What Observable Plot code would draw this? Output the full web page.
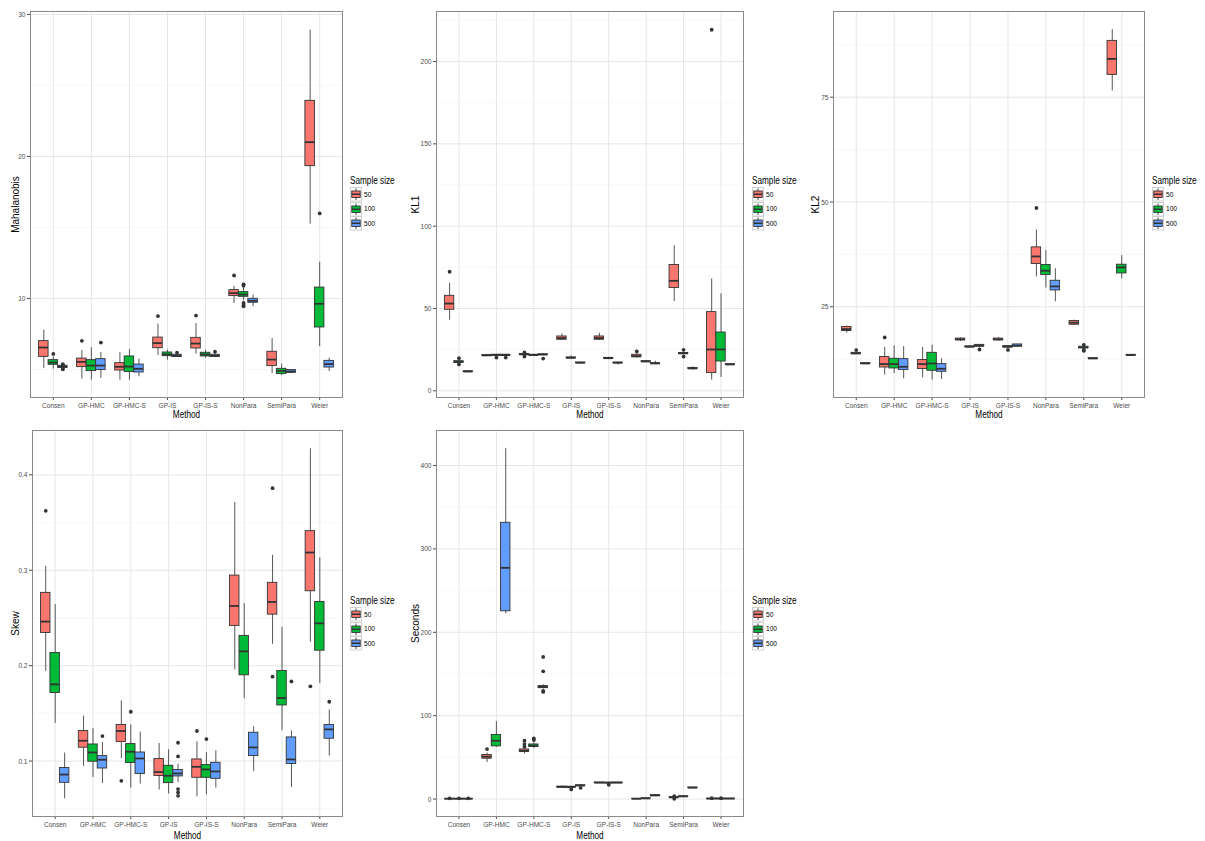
<!DOCTYPE html>
<html><head><meta charset="utf-8">
<script src="https://cdn.jsdelivr.net/npm/d3@7"></script>
<script src="https://cdn.jsdelivr.net/npm/@observablehq/plot@0.6"></script>
<style>
body{margin:0;background:#fff;width:1205px;height:841px;position:relative;overflow:hidden;font-family:"Liberation Sans",Arial,sans-serif;}
.panel{position:absolute;}
.legend{position:absolute;font-size:8px;color:#000;}
.legend .ttl{font-size:10px;line-height:13px;height:13px;white-space:nowrap;display:inline-block;transform:scaleX(0.82);transform-origin:0 50%;}
.legend .row{display:flex;align-items:center;height:14.5px;}
.legend .row span{margin-left:2px;display:inline-block;transform:scaleX(0.82);transform-origin:0 50%;}
g[aria-label="x-axis label"] text, g[aria-label="y-axis label"] text{font-size:10px;fill:#000;}
</style></head><body>
<script>
const methods = ["Consen","GP-HMC","GP-HMC-S","GP-IS","GP-IS-S","NonPara","SemiPara","Weier"];
const sizes = ["50","100","500"];
const colors = ["#F8766D","#00BA38","#619CFF"];
const dodge = [-0.25, 0, 0.25];

// each row: [lower whisker, Q1, median, Q3, upper whisker, [outliers]] ; order: method x size
const mahalanobis = [
  [5.08,5.89,6.55,7.0,7.77,[]],[5.03,5.33,5.49,5.66,5.89,[6.1]],[5.1,5.12,5.19,5.26,5.3,[5.38,5.33,5.05,5.02]],
  [4.32,5.17,5.54,5.77,6.34,[7.02]],[4.25,4.89,5.28,5.66,6.53,[]],[4.37,4.96,5.28,5.73,6.2,[6.9]],
  [4.25,4.93,5.19,5.45,6.2,[]],[4.25,4.82,5.21,5.92,6.41,[]],[4.49,4.79,5.05,5.35,5.73,[]],
  [5.99,6.5,6.86,7.25,8.2,[8.76]],[5.66,5.94,6.06,6.2,6.37,[]],[5.87,5.89,5.96,6.04,6.1,[6.18]],
  [6.08,6.48,6.83,7.23,8.24,[8.8]],[5.8,5.92,6.06,6.18,6.37,[]],[5.87,5.89,5.96,6.04,6.1,[6.25]],
  [9.65,10.17,10.38,10.59,10.85,[11.62]],[9.85,10.12,10.28,10.45,10.7,[10.9,11.0,9.7,9.55,9.45]],[9.42,9.7,9.84,9.98,10.24,[]],
  [4.72,5.24,5.7,6.25,7.18,[]],[4.58,4.68,4.91,5.05,5.38,[]],[4.72,4.77,4.86,4.96,5.0,[]],
  [15.24,19.32,21.01,23.92,28.9,[]],[6.62,7.96,9.63,10.77,12.56,[15.99]],[4.86,5.14,5.38,5.61,5.8,[]]
];
const kl1 = [
  [42.9,49.2,53.0,57.7,65.4,[72.3]],[16.5,17.0,17.5,18.0,18.8,[19.8,16.0]],[11.3,11.5,11.7,11.9,12.1,[]],
  [20.9,21.2,21.5,21.7,22.0,[]],[21.2,21.5,21.7,21.9,22.1,[20.2]],[21.2,21.5,21.7,21.9,22.1,[20.2]],
  [21.3,21.8,22.1,22.4,22.8,[23.3,20.8]],[21.2,21.5,21.7,21.9,22.1,[]],[21.3,21.7,22.0,22.2,22.5,[19.6]],
  [30.6,31.0,32.0,33.0,34.6,[]],[19.4,19.8,20.0,20.3,21.2,[]],[16.6,16.8,17.0,17.2,17.4,[]],
  [30.6,31.0,32.0,33.0,35.0,[]],[19.4,19.6,19.8,20.0,20.3,[]],[15.6,16.8,17.0,17.2,17.4,[]],
  [20.0,20.3,21.1,21.9,22.5,[23.9]],[17.4,17.6,17.8,18.0,18.2,[]],[16.4,16.5,16.6,16.8,17.9,[]],
  [54.2,62.4,66.8,76.4,88.1,[]],[21.8,22.4,22.7,23.0,23.5,[24.9,20.8]],[12.5,13.3,13.6,13.9,14.6,[]],
  [6.5,10.75,25.1,47.8,67.9,[219.3]],[8.1,17.8,25.1,35.4,58.9,[]],[15.7,15.85,16.0,16.15,16.3,[]]
];
const kl2 = [
  [18.7,19.2,19.67,20.15,20.4,[]],[13.6,13.7,13.85,14.0,14.2,[14.66]],[11.3,11.38,11.46,11.54,11.6,[]],
  [8.69,10.5,11.31,12.99,15.28,[17.67]],[9.07,10.27,11.31,12.58,15.69,[]],[7.81,9.88,10.67,12.5,15.5,[]],
  [8.05,10.12,11.31,12.27,15.28,[]],[7.5,9.72,11.46,14.0,15.85,[]],[7.64,9.48,10.2,11.31,12.58,[]],
  [16.7,17.0,17.2,17.4,17.6,[]],[15.2,15.35,15.45,15.55,15.7,[]],[15.2,15.5,15.7,15.9,16.0,[14.8]],
  [16.8,17.0,17.2,17.4,17.6,[]],[15.1,15.3,15.45,15.6,15.7,[14.7]],[15.4,15.5,15.7,16.0,16.1,[]],
  [32.1,35.2,37.0,39.17,43.3,[48.57]],[29.47,32.57,33.6,34.96,38.4,[]],[26.2,28.9,29.85,31.2,34.07,[]],
  [20.5,20.7,21.2,21.6,21.8,[]],[14.9,15.1,15.28,15.45,15.6,[15.9,14.7,14.5]],[12.5,12.6,12.66,12.72,12.8,[]],
  [76.5,80.33,84.15,88.45,91.15,[]],[31.7,32.95,34.4,35.03,37.2,[]],[13.3,13.4,13.46,13.52,13.6,[]]
];
const skew = [
  [0.194,0.2343,0.2462,0.2763,0.3042,[0.3623]],[0.1395,0.1714,0.1804,0.2133,0.264,[]],[0.0604,0.0772,0.0859,0.0927,0.1084,[]],
  [0.0944,0.114,0.1213,0.1315,0.1472,[]],[0.0828,0.0993,0.109,0.1174,0.1342,[]],[0.0765,0.0922,0.1014,0.1052,0.1195,[0.1262]],
  [0.1024,0.12,0.1315,0.1378,0.163,[0.0793]],[0.0717,0.0979,0.1098,0.1178,0.1378,[0.1517]],[0.0759,0.0864,0.1027,0.109,0.1304,[]],
  [0.0696,0.0843,0.0885,0.1021,0.1185,[]],[0.0654,0.0769,0.0846,0.0951,0.1119,[]],[0.0775,0.0839,0.087,0.0906,0.0969,[0.1192,0.1049,0.0706,0.0671,0.0636]],
  [0.0625,0.0825,0.094,0.1017,0.1203,[0.1315]],[0.0646,0.0825,0.0912,0.0958,0.109,[0.1231]],[0.0717,0.0814,0.0891,0.0982,0.1108,[]],
  [0.1955,0.2417,0.2626,0.2944,0.371,[]],[0.1654,0.1899,0.215,0.2312,0.2651,[]],[0.0888,0.1052,0.1143,0.1297,0.136,[]],
  [0.2224,0.2535,0.2668,0.2868,0.3157,[0.386,0.1885]],[0.1318,0.1583,0.1661,0.1944,0.2402,[]],[0.0723,0.0969,0.1017,0.1248,0.1315,[0.1835]],
  [0.2245,0.278,0.3186,0.341,0.4274,[0.1783]],[0.1811,0.2157,0.2444,0.2668,0.313,[]],[0.1052,0.1234,0.1332,0.1378,0.1535,[0.1622]]
];
const seconds = [
  [0.1,0.2,0.3,0.4,0.6,[0.9]],[0.1,0.2,0.3,0.4,0.6,[0.9]],[0.1,0.2,0.3,0.4,0.6,[0.9]],
  [43.9,48.4,50.8,52.8,55.2,[60.0]],[62.0,63.2,70.0,76.8,92.8,[]],[222,225.2,277.3,331.3,420.2,[]],
  [54.0,56.5,58.0,59.5,61.5,[70,66,62.8]],[60.5,62.6,64,65.5,67.5,[72.7,70.8]],[132,133,134.5,135.5,137,[170.5,153.2,129.6,128.5]],
  [13.5,14.0,14.5,15.0,15.4,[]],[13.6,14.0,14.4,14.8,15.2,[11.6]],[15.0,15.7,16.2,16.6,17.0,[13.5]],
  [19.0,19.3,19.6,19.9,20.2,[]],[18.5,19.2,19.5,19.8,20.1,[17.2]],[19.0,19.3,19.6,19.9,20.2,[]],
  [0.1,0.2,0.3,0.4,0.6,[]],[0.5,0.7,0.8,0.9,1.1,[]],[3.0,3.8,4.3,4.8,5.5,[]],
  [1.0,1.6,2.0,2.4,3.0,[0.4,3.6]],[2.7,3.0,3.2,3.4,3.7,[]],[12.8,13.3,13.6,13.9,14.3,[]],
  [0.2,0.4,0.5,0.6,0.8,[1.1]],[0.2,0.4,0.5,0.6,0.8,[1.1]],[0.2,0.4,0.5,0.6,0.8,[]]
];

const panels = [
  {stats: mahalanobis, label: "Mahalanobis", domain: [3.03, 30.21], major: [10,20,30], minor: [5,15,25],
   left: 0, top: 0, width: 345, height: 420, ml: 30, mt: 11, mb: 23, legend: [350, 174]},
  {stats: kl1, label: "KL1", domain: [-4.07, 230.4], major: [0,50,100,150,200], minor: [25,75,125,175,225],
   left: 400, top: 0, width: 346, height: 420, ml: 36, mt: 11, mb: 23, legend: [752, 174]},
  {stats: kl2, label: "KL2", domain: [3.34, 95.46], major: [25,50,75], minor: [12.5,37.5,62.5,87.5],
   left: 800, top: 0, width: 347, height: 420, ml: 33, mt: 11, mb: 23, legend: [1152, 174]},
  {stats: skew, label: "Skew", domain: [0.0419, 0.4465], major: [0.1,0.2,0.3,0.4], minor: [0.05,0.15,0.25,0.35],
   left: 0, top: 420, width: 345, height: 421, ml: 32, mt: 10, mb: 25, legend: [350, 594]},
  {stats: seconds, label: "Seconds", domain: [-20.9, 442], major: [0,100,200,300,400], minor: [50,150,250,350],
   left: 400, top: 420, width: 346, height: 421, ml: 36, mt: 10, mb: 25, legend: [752, 594]}
];

const xTicks = methods.map((m, i) => i + 1);

function narrowText(svg) {
  svg.querySelectorAll("text").forEach(t => {
    if (t.closest('g[aria-label="y-axis label"]')) return;
    const tr = t.getAttribute("transform");
    const x = t.getAttribute("x");
    let pre = "";
    if (x && !/em/.test(x)) { pre = `translate(${x},0) `; t.removeAttribute("x"); }
    t.setAttribute("transform", (tr ? tr + " " : "") + pre + "scale(0.82,1)");
  });
}

function drawPanel(p) {
  const rows = p.stats.map((s, k) => ({
    method: methods[Math.floor(k / 3)], size: sizes[k % 3],
    xc: Math.floor(k / 3) + 1 + dodge[k % 3],
    lo: s[0], q1: s[1], med: s[2], q3: s[3], hi: s[4], out: s[5]
  }));
  const outs = rows.flatMap(r => r.out.map(v => ({xc: r.xc, v})));
  const fig = Plot.plot({
    width: p.width, height: p.height,
    marginLeft: p.ml, marginRight: 3, marginTop: p.mt, marginBottom: p.mb,
    style: {fontSize: "8px", color: "#4d4d4d", background: "transparent",
            fontFamily: '"Liberation Sans",Arial,sans-serif'},
    x: {domain: [0.4, 8.6], ticks: xTicks, tickFormat: i => methods[i - 1], label: "Method",
        labelAnchor: "center", labelArrow: false, tickSize: 3, tickPadding: 2},
    y: {domain: p.domain, ticks: p.major, tickFormat: d => String(d), label: p.label,
        labelAnchor: "center", labelArrow: false, labelOffset: p.ml - 11, tickSize: 3, tickPadding: 2},
    color: {domain: sizes, range: colors},
    marks: [
      Plot.ruleY(p.minor, {stroke: "#f3f3f3", strokeWidth: 0.7}),
      Plot.ruleY(p.major, {stroke: "#e6e6e6", strokeWidth: 1}),
      Plot.ruleX(xTicks, {stroke: "#e6e6e6", strokeWidth: 1}),
      Plot.ruleX(rows, {x: "xc", y1: "lo", y2: "hi", stroke: "#444", strokeWidth: 0.9}),
      Plot.rect(rows, {x1: d => d.xc - 0.125, x2: d => d.xc + 0.125, y1: "q1", y2: "q3",
                       fill: "size", stroke: "#333", strokeWidth: 0.9}),
      Plot.ruleY(rows, {x1: d => d.xc - 0.125, x2: d => d.xc + 0.125, y: "med", stroke: "#333", strokeWidth: 1.8}),
      Plot.dot(outs, {x: "xc", y: "v", r: 1.9, fill: "#333", stroke: "none"}),
      Plot.frame({stroke: "#8a8a8a", strokeWidth: 1})
    ]
  });
  narrowText(fig);
  const wrap = document.createElement("div");
  wrap.className = "panel";
  wrap.style.left = p.left + "px";
  wrap.style.top = p.top + "px";
  wrap.appendChild(fig);
  document.body.appendChild(wrap);
}

function drawLegend(p) {
  const lg = document.createElement("div");
  lg.className = "legend";
  lg.style.left = p.legend[0] + "px";
  lg.style.top = p.legend[1] + "px";
  const t = document.createElement("div");
  t.className = "ttl";
  t.textContent = "Sample size";
  lg.appendChild(t);
  sizes.forEach((s, i) => {
    const row = document.createElement("div");
    row.className = "row";
    const svg = d3.create("svg").attr("width", 12).attr("height", 14.5);
    svg.append("rect").attr("x", 0.5).attr("y", 0.5).attr("width", 11).attr("height", 13.5)
      .attr("fill", "white").attr("stroke", "#d0d0d0");
    svg.append("line").attr("x1", 6).attr("x2", 6).attr("y1", 1.5).attr("y2", 13).attr("stroke", "#444");
    svg.append("rect").attr("x", 1.8).attr("y", 4).attr("width", 8.4).attr("height", 6.5)
      .attr("fill", colors[i]).attr("stroke", "#333").attr("stroke-width", 0.9);
    svg.append("line").attr("x1", 1.8).attr("x2", 10.2).attr("y1", 7.25).attr("y2", 7.25)
      .attr("stroke", "#333").attr("stroke-width", 1.5);
    row.appendChild(svg.node());
    const lab = document.createElement("span");
    lab.textContent = s;
    row.appendChild(lab);
    lg.appendChild(row);
  });
  document.body.appendChild(lg);
}

panels.forEach(drawPanel);
panels.forEach(drawLegend);
</script>
</body></html>
